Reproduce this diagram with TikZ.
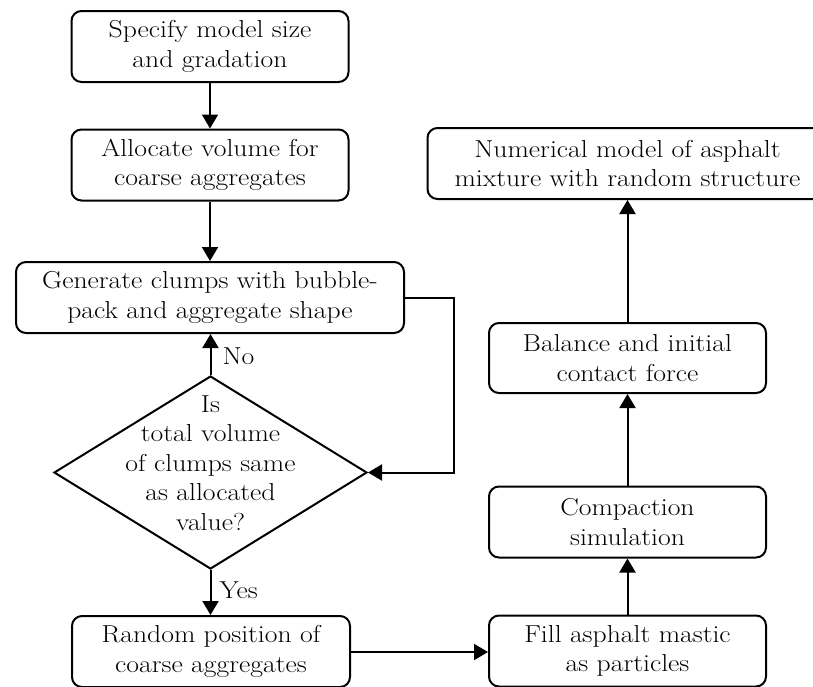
\documentclass[tikz,border=0pt]{standalone}
\usepackage{fontspec}
\setmainfont{Latin Modern Roman}[FakeStretch=1.13]
\usetikzlibrary{arrows.meta,shapes.geometric}
\begin{document}
\begin{tikzpicture}[x=1pt,y=-1pt,
  every node/.style={font=\fontsize{24.5}{29.5}\selectfont},
  box/.style={draw,line width=2pt,rounded corners=10pt,minimum width=277pt,minimum height=71pt,inner sep=0pt,align=center},
  arr/.style={line width=2pt,-{Triangle[length=14pt,width=16pt]}},
  lbl/.style={anchor=west,inner sep=0pt}]
\clip (0,0) rectangle (813,686);
\node[box] (s1) at (210,46.5) {Specify model size\\and gradation};
\node[box] (s2) at (210,165) {Allocate volume for\\coarse aggregates};
\node[box,minimum width=388pt] (s3) at (210,297.5) {Generate clumps with bubble-\\pack and aggregate shape};
\node[draw,diamond,line width=2pt,minimum width=313pt,minimum height=193pt,inner sep=0pt] (dia) at (210.5,472.5) {};
\node[align=center,inner sep=0pt] (qt) at (210.5,463) {Is\\total volume\\of clumps same\\as allocated\\value?};
\node[box,minimum width=278pt] (s4) at (211,651.5) {Random position of\\coarse aggregates};
\node[box] (s5) at (627.5,651) {Fill asphalt mastic\\as particles};
\node[box] (s6) at (627.5,522) {Compaction\\simulation};
\node[box,minimum height=70pt] (s7) at (627.5,358) {Balance and initial\\contact force};
\node[box,minimum width=400pt] (s8) at (627.5,163.5) {Numerical model of asphalt\\mixture with random structure};
\coordinate (fb) at (454,297.5);
\draw[arr] (s1) -- (s2);
\draw[arr] (s2) -- (s3);
\draw[arr] (dia.north) -- (s3.south -| dia.north) node[lbl,pos=0.45,xshift=11pt] (no) {No};
\draw[arr] (dia.south) -- (s4.north -| dia.south) node[lbl,pos=0.45,xshift=8pt] (yes) {Yes};
\draw[arr,rounded corners=0pt] (s3.east) -- (fb) |- (dia.east);
\draw[arr] (s4.east |- 0,652) -- (s5.west |- 0,652);
\draw[arr] (s5) -- (s6);
\draw[arr] (s6) -- (s7);
\draw[arr] (s7) -- (s8);
\end{tikzpicture}
\end{document}
